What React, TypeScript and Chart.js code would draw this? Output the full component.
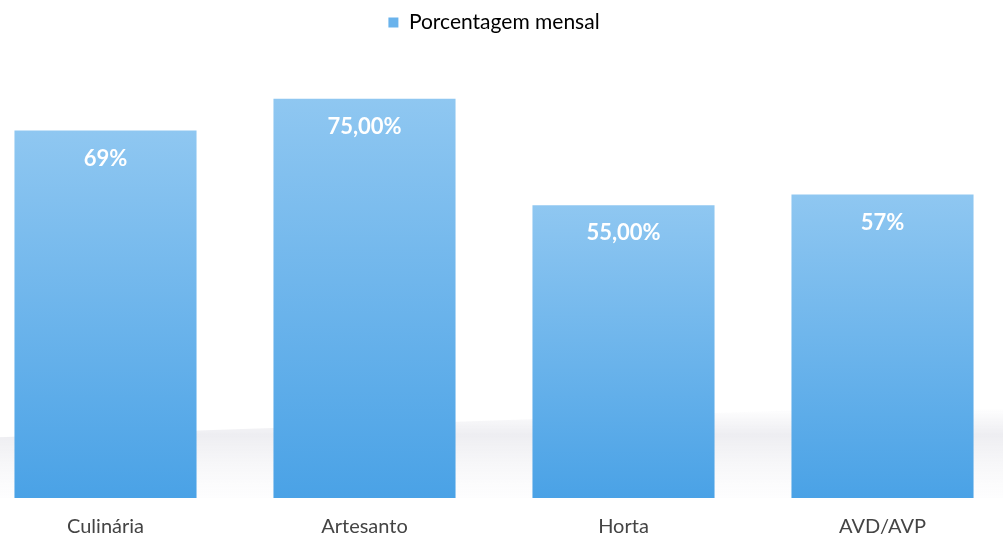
import React, { useEffect, useRef } from "react";
import { Chart, registerables } from "chart.js";

Chart.register(...registerables);

const categories = ["Culinária", "Artesanto", "Horta", "AVD/AVP"];
const values = [69, 75, 55, 57];
const valueLabels = ["69%", "75,00%", "55,00%", "57%"];
const seriesName = "Porcentagem mensal";

const FONT = "Lato, 'Open Sans', sans-serif";

export default function App() {
  const ref = useRef<HTMLCanvasElement | null>(null);

  useEffect(() => {
    document.body.style.margin = "0";
    const canvas = ref.current;
    if (!canvas) return;

    const floorPlugin = {
      id: "floor",
      beforeDatasetsDraw(chart: any) {
        const { ctx, chartArea } = chart;
        const b = chartArea.bottom;
        ctx.save();
        const g = ctx.createLinearGradient(0, b - 90, 0, b);
        g.addColorStop(0, "rgba(220,220,228,0)");
        g.addColorStop(0.3, "rgba(220,220,228,0.5)");
        g.addColorStop(1, "rgba(240,240,244,0.1)");
        ctx.fillStyle = g;
        ctx.beginPath();
        ctx.moveTo(chartArea.left, b - 60);
        ctx.lineTo(chartArea.right, b - 95);
        ctx.lineTo(chartArea.right, b);
        ctx.lineTo(chartArea.left, b);
        ctx.closePath();
        ctx.fill();
        ctx.restore();
      },
    };

    const labelPlugin = {
      id: "valueLabels",
      afterDatasetsDraw(chart: any) {
        const { ctx } = chart;
        const meta = chart.getDatasetMeta(0);
        ctx.save();
        ctx.fillStyle = "#ffffff";
        ctx.font = `bold 22px ${FONT}`;
        ctx.textAlign = "center";
        ctx.textBaseline = "middle";
        meta.data.forEach((bar: any, i: number) => {
          ctx.fillText(valueLabels[i], bar.x, bar.y + 28);
        });
        ctx.restore();
      },
    };

    const legendSpace = {
      id: "legendSpace",
      beforeInit(chart: any) {
        const legend = chart.legend;
        if (!legend) return;
        const orig = legend.fit;
        legend.fit = function () {
          orig.call(this);
          this.height += 29;
        };
      },
    };

    const chart = new Chart(canvas, {
      type: "bar",
      data: {
        labels: categories,
        datasets: [
          {
            label: seriesName,
            data: values,
            backgroundColor: (c: any) => {
              const ch = c.chart;
              const area = ch.chartArea;
              if (!area || c.type !== "data") return "#6FB5EC";
              const yScale = ch.scales.y;
              const top = yScale.getPixelForValue(c.raw);
              const g = ch.ctx.createLinearGradient(0, top, 0, area.bottom);
              g.addColorStop(0, "#8FC7F1");
              g.addColorStop(1, "#4AA2E6");
              return g;
            },
            borderWidth: 0,
            barPercentage: 0.703,
            categoryPercentage: 1,
          },
        ],
      },
      options: {
        animation: false,
        responsive: false,
        maintainAspectRatio: false,
        layout: { padding: { top: 4, bottom: 3, left: 0, right: 0 } },
        plugins: {
          legend: {
            display: true,
            position: "top",
            labels: {
              boxWidth: 10,
              boxHeight: 10,
              color: "#555555",
              font: { family: FONT, size: 21 },
              padding: 8,
              generateLabels: () => [
                {
                  text: seriesName,
                  fillStyle: "#6AB3EC",
                  strokeStyle: "#6AB3EC",
                  lineWidth: 0,
                  hidden: false,
                  datasetIndex: 0,
                },
              ],
            },
          },
          tooltip: { enabled: false },
        },
        scales: {
          x: {
            grid: { display: false },
            border: { display: false },
            ticks: {
              color: "#444444",
              font: { family: FONT, size: 20 },
              padding: 9,
            },
          },
          y: {
            display: false,
            min: 0,
            max: 80,
          },
        },
      },
      plugins: [legendSpace, floorPlugin, labelPlugin],
    });

    return () => chart.destroy();
  }, []);

  return (
    <div style={{ width: 1003, height: 541, overflow: "hidden", position: "relative", background: "#fff" }}>
      <canvas
        ref={ref}
        width={1036}
        height={551}
        style={{ position: "absolute", left: -24, top: 0, width: 1036, height: 551 }}
      />
    </div>
  );
}
